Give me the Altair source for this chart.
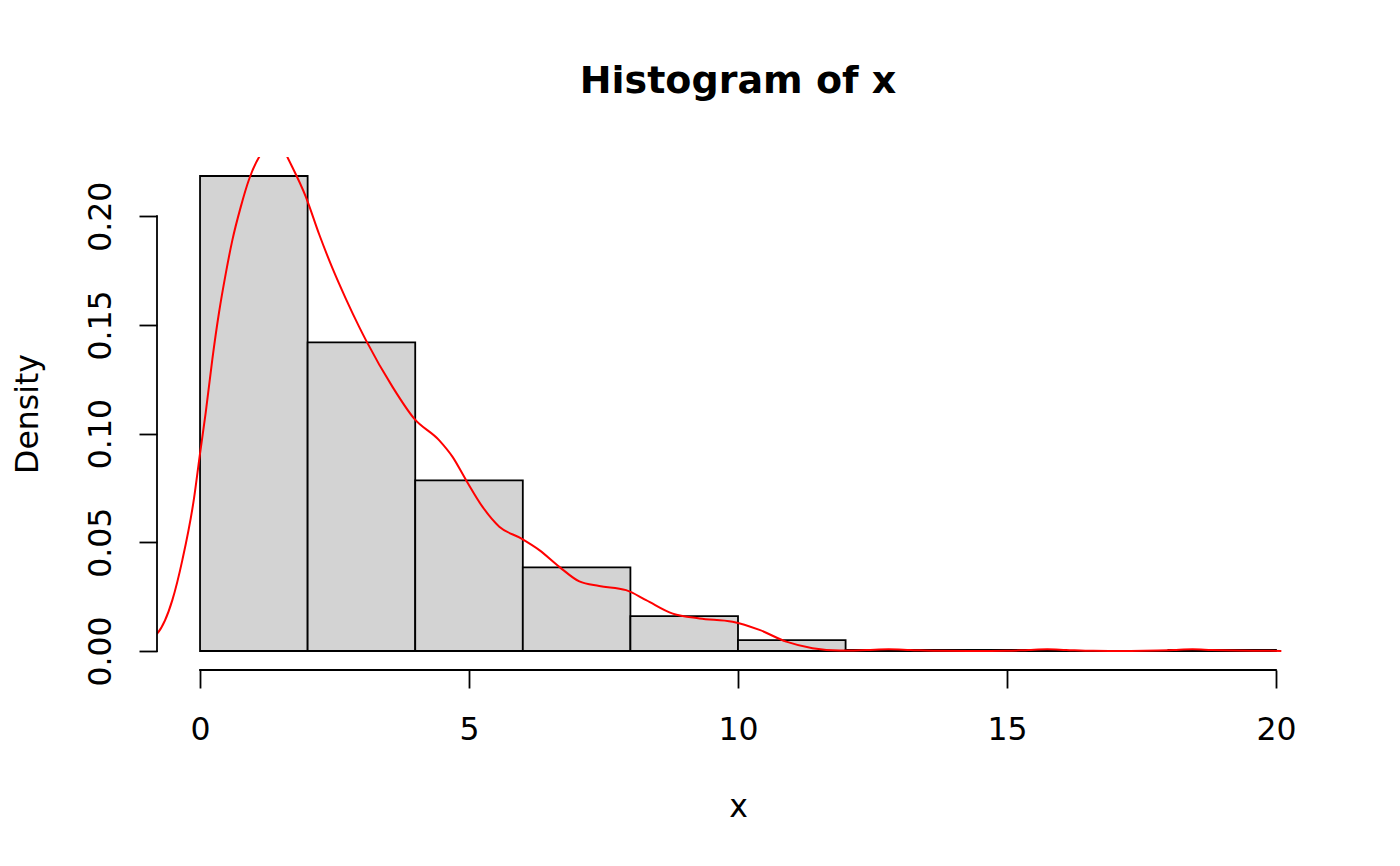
import altair as alt
import pandas as pd

# Histogram bins (density scale)
bin_start = [0, 2, 4, 6, 8, 10, 12, 14, 16, 18]
bin_end = [2, 4, 6, 8, 10, 12, 14, 16, 18, 20]
bin_density = [0.2185, 0.1420, 0.0785, 0.0385, 0.0160, 0.0050, 0.0005, 0.0005, 0.0, 0.0005]

# Kernel density curve
dens_x = [-0.85, -0.794, -0.515, -0.329, -0.112, -0.006, 0.106, 0.229, 0.353, 0.478,
          0.601, 0.757, 0.912, 1.098, 1.25, 1.4, 1.55, 1.624, 1.967, 2.214,
          2.461, 2.711, 2.958, 3.083, 3.578, 3.981, 4.447, 4.694, 4.943, 5.252,
          5.563, 5.967, 6.307, 6.679, 7.051, 7.42, 7.92, 8.292, 8.787, 9.284,
          9.898, 10.4, 10.897, 11.386, 11.888, 12.4, 12.8, 13.2, 13.7, 14.3,
          15.0, 15.4, 15.75, 16.1, 16.6, 17.3, 17.8, 18.1, 18.45, 18.8,
          19.3, 19.8, 20.1]
dens_y = [0.0068, 0.0081, 0.0234, 0.0418, 0.0702, 0.0898, 0.1098, 0.1343, 0.1557, 0.1736,
          0.1890, 0.2043, 0.2170, 0.2272, 0.2320, 0.2340, 0.2310, 0.2272, 0.2089, 0.1917,
          0.1761, 0.1620, 0.1491, 0.1430, 0.1215, 0.1069, 0.0969, 0.0893, 0.0787, 0.0663,
          0.0572, 0.0518, 0.0464, 0.0387, 0.0320, 0.0299, 0.0280, 0.0234, 0.0172, 0.0150,
          0.0135, 0.0097, 0.0043, 0.0013, 0.0002, 0.0005, 0.0008, 0.0005, 0.0001, 0.0,
          0.0001, 0.0005, 0.0008, 0.0005, 0.0001, 0.0, 0.0002, 0.0005, 0.0008, 0.0005,
          0.0002, 0.0001, 0.0]

x_ticks = [0, 5, 10, 15, 20]
y_ticks = [0.0, 0.05, 0.10, 0.15, 0.20]

W, H = 1162, 513
FONT = "DejaVu Sans"
LW = 1.8

ymax = max(bin_density)
x_dom = [x_ticks[0] - 0.04 * (x_ticks[-1] - x_ticks[0]), x_ticks[-1] + 0.04 * (x_ticks[-1] - x_ticks[0])]
y_dom = [-0.04 * ymax, 1.04 * ymax]

bars = pd.DataFrame({"start": bin_start, "end": bin_end, "density": bin_density,
                     "zero": [0.0] * len(bin_start)})
dens = pd.DataFrame({"x": dens_x, "y": dens_y})
xr = pd.DataFrame({"lo": [x_ticks[0]], "hi": [x_ticks[-1]]})
yr = pd.DataFrame({"lo": [y_ticks[0]], "hi": [y_ticks[-1]]})

xscale = alt.Scale(domain=x_dom, nice=False, zero=False)
yscale = alt.Scale(domain=y_dom, nice=False, zero=False)

xaxis = alt.Axis(values=x_ticks, domain=False, grid=False, tickSize=18, tickWidth=LW,
                 tickColor="black", labelFont=FONT, labelFontSize=31.5, labelColor="black",
                 labelPadding=51, labelBaseline="alphabetic", labelFlush=False,
                 labelOverlap=False, title="x", titleFont=FONT, titleFontSize=31.5,
                 titleFontWeight="normal", titleColor="black", titleBaseline="alphabetic",
                 titleX=W / 2, titleY=146, titleAlign="center")
yaxis = alt.Axis(values=y_ticks, format=".2f", domain=False, grid=False, tickSize=18,
                 tickWidth=LW, tickColor="black", labelFont=FONT, labelFontSize=31.5,
                 labelColor="black", labelAngle=270, labelAlign="center",
                 labelBaseline="alphabetic", labelPadding=29, labelFlush=False,
                 labelOverlap=False, title="Density", titleFont=FONT, titleFontSize=31.5,
                 titleFontWeight="normal", titleColor="black", titleAngle=270,
                 titleAlign="center", titleBaseline="alphabetic", titleX=-120, titleY=H / 2)

hist = alt.Chart(bars).mark_rect(fill="#D3D3D3", stroke="black", strokeWidth=LW).encode(
    x=alt.X("start:Q", scale=xscale, axis=xaxis),
    x2="end:Q",
    y=alt.Y("zero:Q", scale=yscale, axis=yaxis),
    y2="density:Q",
)

line = alt.Chart(dens).mark_line(color="red", strokeWidth=2, interpolate="monotone", clip=True).encode(
    x="x:Q", y="y:Q", order="x:Q"
)

xline = alt.Chart(xr).mark_rule(color="black", strokeWidth=LW, strokeCap="square").encode(
    x="lo:Q", x2="hi:Q", y=alt.value(H)
)
yline = alt.Chart(yr).mark_rule(color="black", strokeWidth=LW, strokeCap="square").encode(
    y="lo:Q", y2="hi:Q", x=alt.value(0)
)

chart = alt.layer(hist, line, xline, yline).properties(
    width=W, height=H,
    background="white",
    title=alt.TitleParams("Histogram of x", font=FONT, fontSize=38, fontWeight="bold",
                          color="black", anchor="middle", baseline="alphabetic", offset=26),
    autosize=alt.AutoSizeParams(type="none"),
    padding={"left": 149, "top": 149, "right": 73, "bottom": 188},
).configure_view(stroke=None, strokeWidth=0)

chart.save("out.html", embed_options={"renderer": "svg", "actions": False})
